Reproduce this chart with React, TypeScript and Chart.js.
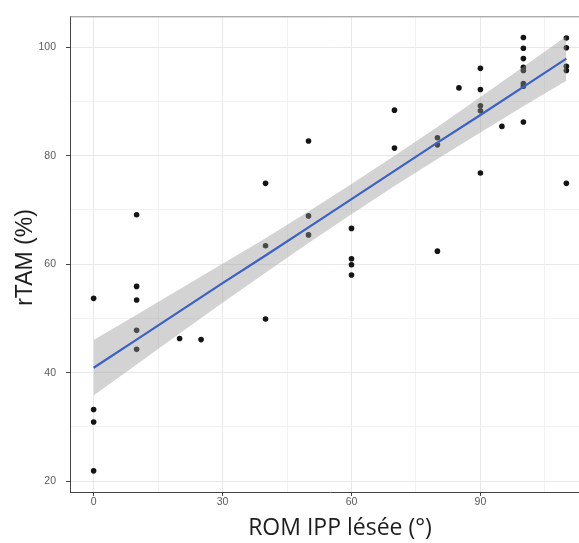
import React, { useEffect, useRef } from 'react';
import { Chart, registerables } from 'chart.js';

Chart.register(...registerables);

// ROM IPP lésée (°) for each patient
const romIpp = [
  0, 0, 0, 0,
  10, 10, 10, 10, 10,
  20,
  25,
  40, 40, 40,
  50, 50, 50,
  60, 60, 60, 60,
  70, 70,
  80, 80, 80,
  85,
  90, 90, 90, 90, 90,
  95,
  100, 100, 100, 100, 100, 100, 100, 100,
  110, 110, 110, 110, 110,
];

// rTAM (%) for each patient
const rTam = [
  53.7, 33.2, 30.9, 21.9,
  69.1, 55.9, 53.4, 47.8, 44.3,
  46.3,
  46.1,
  74.9, 63.4, 49.9,
  82.7, 68.9, 65.4,
  66.6, 61.0, 59.9, 58.0,
  88.4, 81.4,
  83.3, 82.0, 62.4,
  92.5,
  96.1, 92.2, 89.2, 88.3, 76.8,
  85.4,
  101.8, 99.8, 97.9, 96.3, 95.7, 93.3, 92.8, 86.2,
  101.7, 99.9, 96.5, 95.7, 74.9,
];

// Linear fit and its confidence band
const fitX = [0, 10, 20, 30, 40, 50, 60, 70, 80, 90, 100, 110];
const fitY = [40.9, 46.1, 51.3, 56.5, 61.6, 66.8, 72.0, 77.2, 82.4, 87.5, 92.7, 97.9];
const fitLow = [35.8, 41.5, 47.2, 52.9, 58.4, 63.9, 69.2, 74.4, 79.4, 84.3, 89.1, 93.8];
const fitHigh = [46.0, 50.7, 55.4, 60.1, 64.8, 69.7, 74.8, 80.0, 85.3, 90.8, 96.4, 102.0];

const xMajorTicks = [0, 30, 60, 90];
const xMinorTicks = [15, 45, 75, 105];
const yMajorTicks = [20, 40, 60, 80, 100];
const yMinorTicks = [30, 50, 70, 90];

const xTitle = 'ROM IPP lésée (°)';
const yTitle = 'rTAM (%)';

const panelPlugin = {
  id: 'panelDecor',
  afterDatasetsDraw(chart: any) {
    const { ctx, chartArea } = chart;
    ctx.save();
    ctx.strokeStyle = '#8c8c8c';
    ctx.lineWidth = 1;
    ctx.beginPath();
    ctx.moveTo(chartArea.left, chartArea.top + 0.5);
    ctx.lineTo(chartArea.right, chartArea.top + 0.5);
    ctx.stroke();
    ctx.restore();
  },
  afterDraw(chart: any) {
    const { ctx } = chart;
    ctx.save();
    ctx.fillStyle = '#1e1e1e';
    ctx.textAlign = 'center';
    ctx.textBaseline = 'middle';
    ctx.font = '23px "Open Sans"';
    ctx.fillText(xTitle, 340, 528.5);
    ctx.translate(26, 257.5);
    ctx.rotate(-Math.PI / 2);
    ctx.font = '23px "Liberation Sans"';
    ctx.fillText(yTitle, 0, 0);
    ctx.restore();
  },
};

export default function App() {
  const ref = useRef<HTMLCanvasElement>(null);

  useEffect(() => {
    const canvas = ref.current;
    if (!canvas) return;
    const points = romIpp.map((x, i) => ({ x, y: rTam[i] }));
    const fit = fitX.map((x, i) => ({ x, y: fitY[i] }));
    const hi = fitX.map((x, i) => ({ x, y: fitHigh[i] }));
    const lo = fitX.map((x, i) => ({ x, y: fitLow[i] }));

    const tickFont = { family: '"Liberation Sans", Arial, sans-serif', size: 10.5 };

    const chart = new Chart(canvas, {
      type: 'scatter',
      data: {
        datasets: [
          {
            label: 'fit',
            data: fit,
            showLine: true,
            borderColor: '#3c61c6',
            borderWidth: 2.2,
            pointRadius: 0,
            fill: false,
          } as any,
          {
            label: 'upper',
            data: hi,
            showLine: true,
            borderWidth: 0,
            borderColor: 'rgba(0,0,0,0)',
            pointRadius: 0,
            backgroundColor: 'rgba(150,150,150,0.42)',
            fill: '+1',
          },
          {
            label: 'lower',
            data: lo,
            showLine: true,
            borderWidth: 0,
            borderColor: 'rgba(0,0,0,0)',
            pointRadius: 0,
            fill: false,
          },
          {
            label: 'points',
            data: points,
            showLine: false,
            pointRadius: 2.8,
            pointBackgroundColor: '#141414',
            pointBorderWidth: 0,
          },
        ],
      },
      options: {
        responsive: false,
        animation: false,
        events: [],
        layout: { padding: { left: 0, top: 15, right: 10, bottom: 0 } },
        plugins: { legend: { display: false }, tooltip: { enabled: false } },
        scales: {
          x: {
            type: 'linear',
            min: -5.5,
            max: 115.5,
            afterBuildTicks: (s: any) => {
              s.ticks = [...xMajorTicks, ...xMinorTicks]
                .sort((a, b) => a - b)
                .map((v) => ({ value: v }));
            },
            afterFit: (s: any) => {
              s.height = 51;
            },
            grid: {
              color: (c: any) => (xMajorTicks.includes(c.tick?.value) ? '#e8e8e8' : '#f2f2f2'),
              lineWidth: 1,
              tickColor: (c: any) => (xMajorTicks.includes(c.tick?.value) ? '#444' : 'rgba(0,0,0,0)'),
              tickLength: 4,
            },
            border: { display: true, color: '#444', width: 1 },
            ticks: {
              autoSkip: false,
              maxRotation: 0,
              padding: 0,
              color: '#5a5a5a',
              font: tickFont,
              callback: (v: any) => (xMajorTicks.includes(v) ? String(v) : ''),
            },
          },
          y: {
            type: 'linear',
            min: 18,
            max: 105.7,
            afterBuildTicks: (s: any) => {
              s.ticks = [...yMajorTicks, ...yMinorTicks]
                .sort((a, b) => a - b)
                .map((v) => ({ value: v }));
            },
            afterFit: (s: any) => {
              s.width = 70;
            },
            grid: {
              color: (c: any) => (yMajorTicks.includes(c.tick?.value) ? '#e8e8e8' : '#f2f2f2'),
              lineWidth: 1,
              tickColor: (c: any) => (yMajorTicks.includes(c.tick?.value) ? '#444' : 'rgba(0,0,0,0)'),
              tickLength: 4,
            },
            border: { display: true, color: '#444', width: 1 },
            ticks: {
              autoSkip: false,
              padding: 10,
              color: '#5a5a5a',
              font: tickFont,
              callback: (v: any) => (yMajorTicks.includes(v) ? String(v) : ''),
            },
          },
        },
      },
      plugins: [panelPlugin],
    });
    return () => chart.destroy();
  }, []);

  return (
    <div
      style={{
        position: 'fixed',
        left: 0,
        top: 0,
        width: 579,
        height: 543,
        overflow: 'hidden',
        background: '#fff',
      }}
    >
      <canvas ref={ref} width={600} height={543} style={{ display: 'block' }} />
    </div>
  );
}
